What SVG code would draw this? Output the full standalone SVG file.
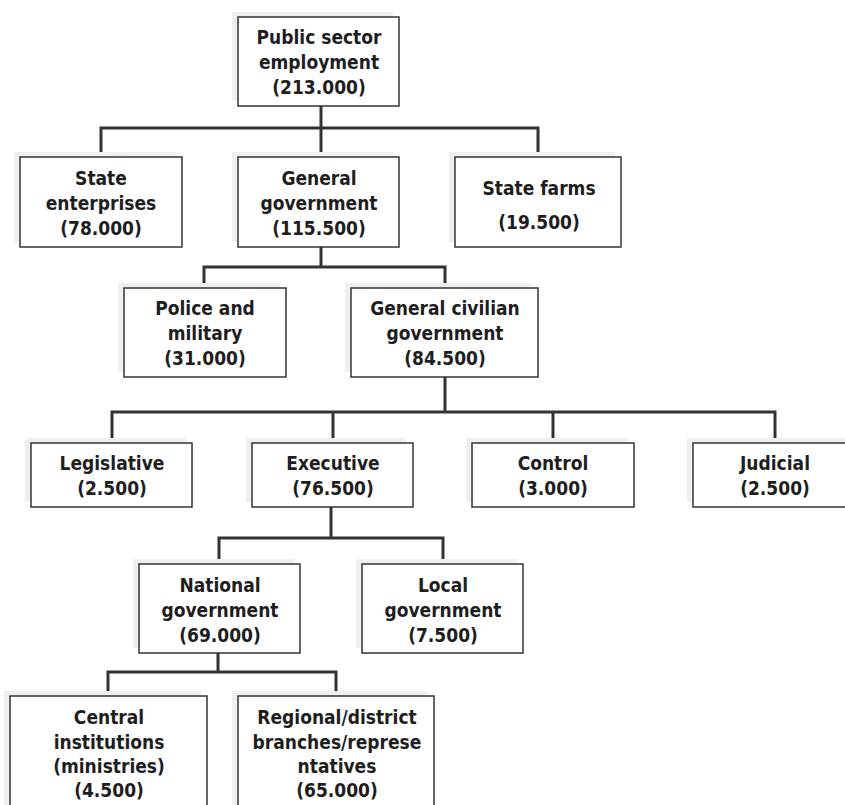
<svg xmlns="http://www.w3.org/2000/svg" width="845" height="805" viewBox="0 0 845 805">
  <defs>
    <style>
      .shadow { fill: #efefef; }
      .box { fill: #ffffff; stroke: #333333; stroke-width: 1.5; }
      .lbl { font-family: "DejaVu Sans Condensed", "DejaVu Sans", sans-serif; font-stretch: condensed; font-weight: bold; font-size: 19px; fill: #1e1e1e; text-anchor: middle; }
      .wire { fill: none; stroke: #333333; stroke-width: 3; stroke-linecap: square; }
      .wire-shade { fill: none; stroke: #ececec; stroke-width: 3; }
    </style>
  </defs>
  <rect width="845" height="805" fill="#ffffff"/>

  <!-- connectors -->
  <g id="connectors">
    <path class="wire" d="M321 106 V128 M101 157 V128 H538 V157 M321 128 V157"/>
    <path class="wire" d="M321 247 V267 M204 288 V267 H445 V288"/>
    <path class="wire" d="M445 377 V412 M112 443 V412 H775 V443 M333 412 V443 M553 412 V443"/>
    <path class="wire" d="M331 507 V538 M219 564 V538 H443 V564"/>
    <path class="wire" d="M218 653 V672 M108 696 V672 H336 V696"/>
  </g>

  <!-- level 0 -->
  <g id="public-sector">
    <rect class="shadow" x="232" y="12" width="161" height="89"/>
    <rect class="box" x="238" y="17" width="161" height="89"/>
    <text class="lbl" x="319" y="44">Public sector</text>
    <text class="lbl" x="319" y="69">employment</text>
    <text class="lbl" x="319" y="94">(213.000)</text>
  </g>

  <!-- level 1 -->
  <g id="state-enterprises">
    <rect class="shadow" x="14" y="152" width="162" height="90"/>
    <rect class="box" x="20" y="157" width="162" height="90"/>
    <text class="lbl" x="101" y="185">State</text>
    <text class="lbl" x="101" y="210">enterprises</text>
    <text class="lbl" x="101" y="235">(78.000)</text>
  </g>
  <g id="general-government">
    <rect class="shadow" x="232" y="152" width="161" height="90"/>
    <rect class="box" x="238" y="157" width="161" height="90"/>
    <text class="lbl" x="319" y="185">General</text>
    <text class="lbl" x="319" y="210">government</text>
    <text class="lbl" x="319" y="235">(115.500)</text>
  </g>
  <g id="state-farms">
    <rect class="shadow" x="449" y="152" width="166" height="90"/>
    <rect class="box" x="455" y="157" width="166" height="90"/>
    <text class="lbl" x="539" y="195">State farms</text>
    <text class="lbl" x="539" y="229">(19.500)</text>
  </g>

  <!-- level 2 -->
  <g id="police-military">
    <rect class="shadow" x="118" y="283" width="162" height="89"/>
    <rect class="box" x="124" y="288" width="162" height="89"/>
    <text class="lbl" x="205" y="315">Police and</text>
    <text class="lbl" x="205" y="340">military</text>
    <text class="lbl" x="205" y="365">(31.000)</text>
  </g>
  <g id="general-civilian">
    <rect class="shadow" x="345" y="283" width="187" height="89"/>
    <rect class="box" x="351" y="288" width="187" height="89"/>
    <text class="lbl" x="445" y="315">General civilian</text>
    <text class="lbl" x="445" y="340">government</text>
    <text class="lbl" x="445" y="365">(84.500)</text>
  </g>

  <!-- level 3 -->
  <g id="legislative">
    <rect class="shadow" x="25" y="438" width="161" height="64"/>
    <rect class="box" x="31" y="443" width="161" height="64"/>
    <text class="lbl" x="112" y="470">Legislative</text>
    <text class="lbl" x="112" y="495">(2.500)</text>
  </g>
  <g id="executive">
    <rect class="shadow" x="246" y="438" width="161" height="64"/>
    <rect class="box" x="252" y="443" width="161" height="64"/>
    <text class="lbl" x="333" y="470">Executive</text>
    <text class="lbl" x="333" y="495">(76.500)</text>
  </g>
  <g id="control">
    <rect class="shadow" x="466" y="438" width="162" height="64"/>
    <rect class="box" x="472" y="443" width="162" height="64"/>
    <text class="lbl" x="553" y="470">Control</text>
    <text class="lbl" x="553" y="495">(3.000)</text>
  </g>
  <g id="judicial">
    <rect class="shadow" x="687" y="438" width="162" height="64"/>
    <rect class="box" x="693" y="443" width="162" height="64"/>
    <text class="lbl" x="775" y="470">Judicial</text>
    <text class="lbl" x="775" y="495">(2.500)</text>
  </g>

  <!-- level 4 -->
  <g id="national-government">
    <rect class="shadow" x="133" y="559" width="161" height="89"/>
    <rect class="box" x="139" y="564" width="161" height="89"/>
    <text class="lbl" x="220" y="592">National</text>
    <text class="lbl" x="220" y="617">government</text>
    <text class="lbl" x="220" y="642">(69.000)</text>
  </g>
  <g id="local-government">
    <rect class="shadow" x="356" y="559" width="161" height="89"/>
    <rect class="box" x="362" y="564" width="161" height="89"/>
    <text class="lbl" x="443" y="592">Local</text>
    <text class="lbl" x="443" y="617">government</text>
    <text class="lbl" x="443" y="642">(7.500)</text>
  </g>

  <!-- level 5 -->
  <g id="central-institutions">
    <rect class="shadow" x="4" y="691" width="197" height="130"/>
    <rect class="box" x="10" y="696" width="197" height="130"/>
    <text class="lbl" x="109" y="724">Central</text>
    <text class="lbl" x="109" y="749">institutions</text>
    <text class="lbl" x="109" y="773">(ministries)</text>
    <text class="lbl" x="109" y="797">(4.500)</text>
  </g>
  <g id="regional-branches">
    <rect class="shadow" x="232" y="691" width="196" height="130"/>
    <rect class="box" x="238" y="696" width="196" height="130"/>
    <text class="lbl" x="337" y="724">Regional/district</text>
    <text class="lbl" x="337" y="749">branches/represe</text>
    <text class="lbl" x="337" y="773">ntatives</text>
    <text class="lbl" x="337" y="797">(65.000)</text>
  </g>
</svg>
